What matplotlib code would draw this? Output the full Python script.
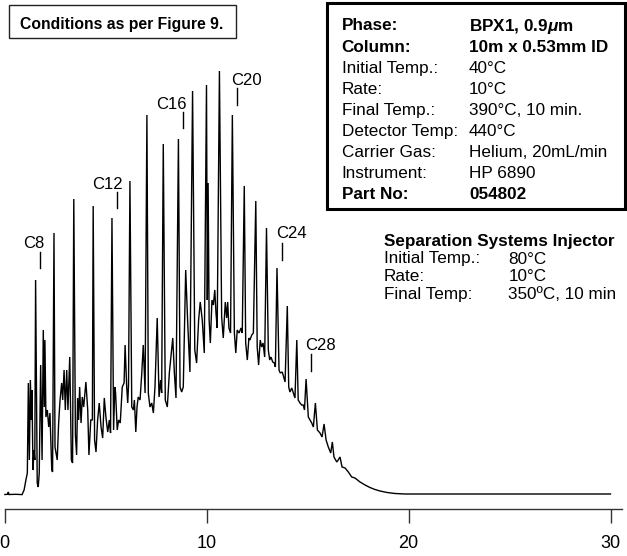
import matplotlib
matplotlib.use("Agg")
import matplotlib.pyplot as plt
from matplotlib.patches import Rectangle

plt.rcParams['font.family'] = ['Liberation Sans', 'DejaVu Sans']
plt.rcParams['mathtext.fontset'] = 'custom'
plt.rcParams['mathtext.it'] = 'Liberation Sans:italic:bold'
plt.rcParams['mathtext.rm'] = 'Liberation Sans:bold'

W, H, DPI = 627, 556, 100

# ---------------- data (retention time in minutes, detector signal) ----------------
time_min = [
    0.02, 0.15, 0.19, 0.22, 0.57, 0.87, 0.97, 1.06, 1.13, 1.18,
    1.23, 1.28, 1.33, 1.36, 1.41, 1.46, 1.50, 1.54, 1.62, 1.67,
    1.72, 1.79, 1.86, 1.92, 1.97, 2.00, 2.05, 2.12, 2.19, 2.25,
    2.34, 2.38, 2.45, 2.50, 2.55, 2.61, 2.68, 2.75, 2.83, 2.88,
    2.95, 3.01, 3.08, 3.14, 3.23, 3.31, 3.37, 3.43, 3.51, 3.57,
    3.62, 3.67, 3.72, 3.79, 3.85, 3.92, 4.03, 4.12, 4.18, 4.27,
    4.35, 4.39, 4.46, 4.53, 4.61, 4.69, 4.78, 4.86, 4.94, 5.02,
    5.11, 5.19, 5.25, 5.32, 5.40, 5.46, 5.50, 5.58, 5.65, 5.73,
    5.83, 5.92, 5.97, 6.05, 6.10, 6.14, 6.21, 6.30, 6.38, 6.43,
    6.50, 6.56, 6.62, 6.71, 6.79, 6.87, 6.96, 7.05, 7.12, 7.20,
    7.29, 7.37, 7.45, 7.56, 7.65, 7.73, 7.78, 7.86, 7.96, 8.06,
    8.16, 8.33, 8.41, 8.49, 8.61, 8.69, 8.77, 8.85, 8.97, 9.07,
    9.18, 9.31, 9.42, 9.51, 9.61, 9.69, 9.79, 9.89, 10.00, 10.04,
    10.08, 10.13, 10.19, 10.27, 10.34, 10.41, 10.47, 10.53, 10.64, 10.75,
    10.83, 10.93, 11.00, 11.05, 11.11, 11.19, 11.28, 11.38, 11.45, 11.52,
    11.61, 11.71, 11.77, 11.87, 11.94, 12.02, 12.10, 12.15, 12.24, 12.32,
    12.44, 12.51, 12.58, 12.66, 12.73, 12.80, 12.88, 12.97, 13.06, 13.13,
    13.19, 13.28, 13.36, 13.41, 13.49, 13.59, 13.65, 13.75, 13.82, 13.89,
    14.00, 14.07, 14.13, 14.22, 14.30, 14.38, 14.47, 14.54, 14.63, 14.71,
    14.79, 14.85, 14.93, 15.04, 15.21, 15.29, 15.39, 15.49, 15.62, 15.72,
    15.82, 15.92, 16.03, 16.15, 16.23, 16.31, 16.45, 16.52, 16.61, 16.71,
    16.86, 17.02, 17.19, 17.35, 17.60, 17.85, 18.09, 18.34, 18.59, 18.94,
    19.33, 19.83, 30.00]

signal = [
    -0.5, -0.3, 2, -0.5, -0.3, -0.6, 4, 14, 21, 111,
    34, 114, 74, 104, 24, 44, 34, 214, 11, 7,
    21, 129, 34, 164, 87, 154, 77, 84, 67, 81,
    24, 22, 261, 47, 41, 34, 71, 94, 111, 94,
    124, 84, 124, 84, 137, 34, 31, 295, 59, 39,
    96, 74, 107, 71, 97, 87, 112, 84, 39, 74,
    74, 288, 54, 42, 74, 91, 67, 56, 96, 77,
    62, 74, 61, 276, 64, 107, 101, 64, 74, 71,
    107, 111, 149, 107, 91, 109, 313, 87, 84, 94,
    62, 87, 97, 94, 119, 149, 101, 379, 101, 87,
    91, 81, 107, 176, 97, 114, 101, 350, 94, 87,
    121, 156, 121, 96, 355, 107, 102, 107, 224, 171,
    122, 403, 144, 131, 174, 192, 174, 141, 409, 194,
    311, 174, 151, 194, 189, 204, 181, 166, 423, 177,
    156, 192, 176, 192, 166, 161, 379, 161, 141, 164,
    161, 166, 161, 308, 151, 134, 156, 154, 159, 161,
    293, 147, 129, 154, 147, 151, 137, 266, 144, 134,
    137, 132, 131, 127, 226, 124, 121, 122, 117, 112,
    188, 107, 102, 106, 101, 96, 154, 94, 91, 89,
    89, 84, 115, 77, 71, 67, 91, 64, 61, 57,
    70, 54, 47, 41, 52, 37, 32, 34, 37, 27,
    26, 22, 17, 16, 12, 9, 6.5, 4.5, 3, 1.5,
    0.5, 0, 0]

tick_values = [0, 10, 20, 30]

peak_labels = ["C8", "C12", "C16", "C20", "C24", "C28"]

cond_labels = ["Phase:", "Column:", "Initial Temp.:", "Rate:", "Final Temp.:",
               "Detector Temp:", "Carrier Gas:", "Instrument:", "Part No:"]
cond_values = [r"BPX1, 0.9$\mu$m", "10m x 0.53mm ID", "40°C", "10°C",
               "390°C, 10 min.", "440°C", "Helium, 20mL/min", "HP 6890", "054802"]
cond_bold = [True, True, False, False, False, False, False, False, True]

inj_title = "Separation Systems Injector"
inj_labels = ["Initial Temp.:", "Rate:", "Final Temp:"]
inj_values = ["80°C", "10°C", "350ºC, 10 min"]

note_text = "Conditions as per Figure 9."

# ---------------- annotation positions (layout) ----------------
label_pos = [(1.46, 246.5), (5.10, 305.5), (8.27, 385.5),
             (11.96, 409.5), (14.22, 255.5), (15.62, 144)]
marker_pos = [(1.74, 226, 242), (5.57, 286, 302), (8.82, 366, 382),
              (11.51, 389, 406), (13.72, 234, 251), (15.17, 123, 140)]


def fx(px):
    return px / W


def fy(py):
    return 1 - py / H


fig = plt.figure(figsize=(W / DPI, H / DPI), dpi=DPI)
ax = fig.add_axes([0, fy(509), 1, 509 / H])
ax.patch.set_alpha(0)

ax.plot(time_min, signal, color='black', lw=1.0, solid_joinstyle='miter')

ax.set_xlim(-4.5 / 20.2, 622.5 / 20.2)
ax.set_ylim(-15, 494)
for s in ['top', 'right', 'left']:
    ax.spines[s].set_visible(False)
ax.spines['bottom'].set_bounds(0, 30.55)
ax.spines['bottom'].set_linewidth(1.0)
ax.spines['bottom'].set_color('#333333')
ax.set_yticks([])
ax.set_xticks(tick_values)
ax.set_xticklabels([str(v) for v in tick_values])
ax.tick_params(axis='x', direction='out', length=10, width=1.0,
               color='#333333', pad=9, labelsize=13)

for lab, (t, s) in zip(peak_labels, label_pos):
    ax.text(t, s, lab, ha='center', va='baseline', fontsize=12)
for (t, s0, s1) in marker_pos:
    ax.plot([t, t], [s0, s1], color='black', lw=1.0)

# Note box
fig.add_artist(Rectangle((fx(9.3), fy(38)), fx(236) - fx(9.3), fy(5) - fy(38),
                         transform=fig.transFigure, fill=False,
                         edgecolor='#222222', lw=1.0))
fig.text(fx(20), fy(29), note_text, fontsize=11.3, fontweight='bold',
         ha='left', va='baseline')

# Conditions box
fig.add_artist(Rectangle((fx(327), fy(209)), fx(625) - fx(327), fy(3) - fy(209),
                         transform=fig.transFigure, fill=False,
                         edgecolor='black', lw=2.2))
for i, (lab, val, b) in enumerate(zip(cond_labels, cond_values, cond_bold)):
    yb = 30.5 + 21.06 * i
    w = 'bold' if b else 'normal'
    fig.text(fx(341.7), fy(yb), lab, fontsize=12.3, fontweight=w,
             ha='left', va='baseline')
    fig.text(fx(469), fy(yb), val, fontsize=12.3, fontweight=w,
             ha='left', va='baseline')

# Injector block
fig.text(fx(384), fy(245.7), inj_title, fontsize=12.3, fontweight='bold',
         ha='left', va='baseline')
for i, (lab, val) in enumerate(zip(inj_labels, inj_values)):
    yb = 263.5 + 17.8 * i
    fig.text(fx(384), fy(yb), lab, fontsize=12.3, ha='left', va='baseline')
    fig.text(fx(508.3), fy(yb), val, fontsize=12.3, ha='left', va='baseline')

fig.savefig('out.png', dpi=DPI)
